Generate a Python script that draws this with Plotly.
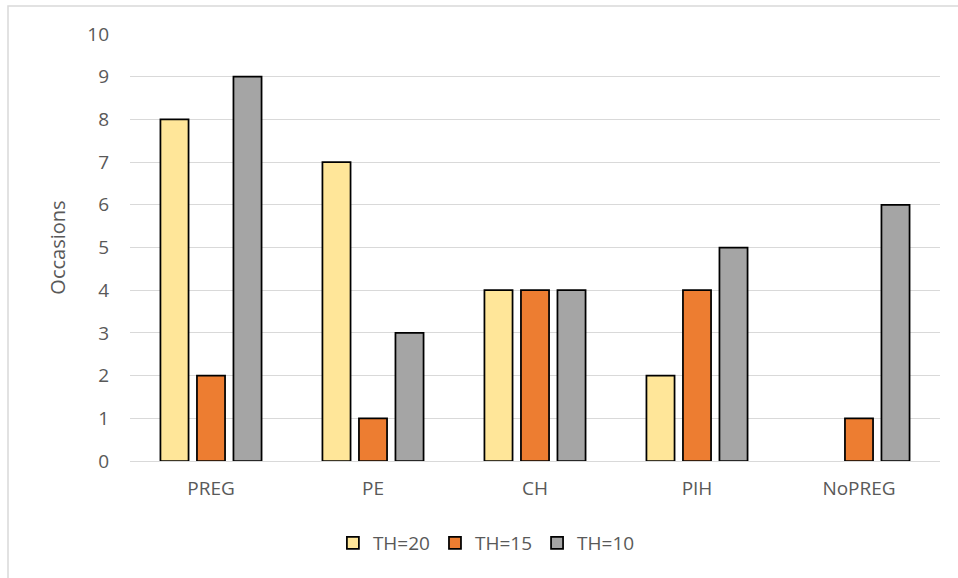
import plotly.graph_objects as go

categories = ["PREG", "PE", "CH", "PIH", "NoPREG"]
th20 = [8, 7, 4, 2, None]
th15 = [2, 1, 4, 4, 1]
th10 = [9, 3, 4, 5, 6]
series_names = ["TH=20", "TH=15", "TH=10"]
colors = ["#FFE699", "#ED7D31", "#A5A5A5"]

fig = go.Figure()
for name, vals, col in zip(series_names, [th20, th15, th10], colors):
    fig.add_trace(go.Bar(
        x=categories, y=vals, name=name,
        marker=dict(color=col, line=dict(color="#000000", width=1.75)),
    ))

font_family = "'Open Sans', 'Noto Sans', sans-serif"

fig.update_layout(
    width=958, height=578,
    margin=dict(l=130, r=18, t=34, b=117),
    paper_bgcolor="white", plot_bgcolor="white",
    barmode="group", bargap=0.324, bargroupgap=0.23,
    font=dict(family=font_family, color="#595959", size=19),
    showlegend=True,
    legend=dict(orientation="h", x=0.44, xanchor="center", y=-0.192, yanchor="middle",
                font=dict(size=19, color="#595959"), itemwidth=30,
                traceorder="normal"),
    xaxis=dict(showgrid=False, showline=True, linecolor="#D9D9D9", linewidth=1,
               ticks="", tickfont=dict(size=19, color="#595959"), ticklabelstandoff=10),
    yaxis=dict(range=[0, 10], dtick=1, showgrid=True, gridcolor="#D9D9D9", gridwidth=1,
               zeroline=False, showline=False, ticks="",
               tickfont=dict(size=19, color="#595959"), ticklabelstandoff=20,
               title=dict(text="Occasions", font=dict(size=20, color="#595959"), standoff=16)),
    shapes=[dict(type="rect", xref="paper", yref="paper",
                 x0=(8 - 130) / 810, x1=(975 - 130) / 810,
                 y0=(461 - 600) / 427, y1=(461 - 6) / 427,
                 line=dict(color="#D9D9D9", width=1.5), fillcolor="rgba(0,0,0,0)",
                 layer="below")],
)

fig.write_html("out.html")
